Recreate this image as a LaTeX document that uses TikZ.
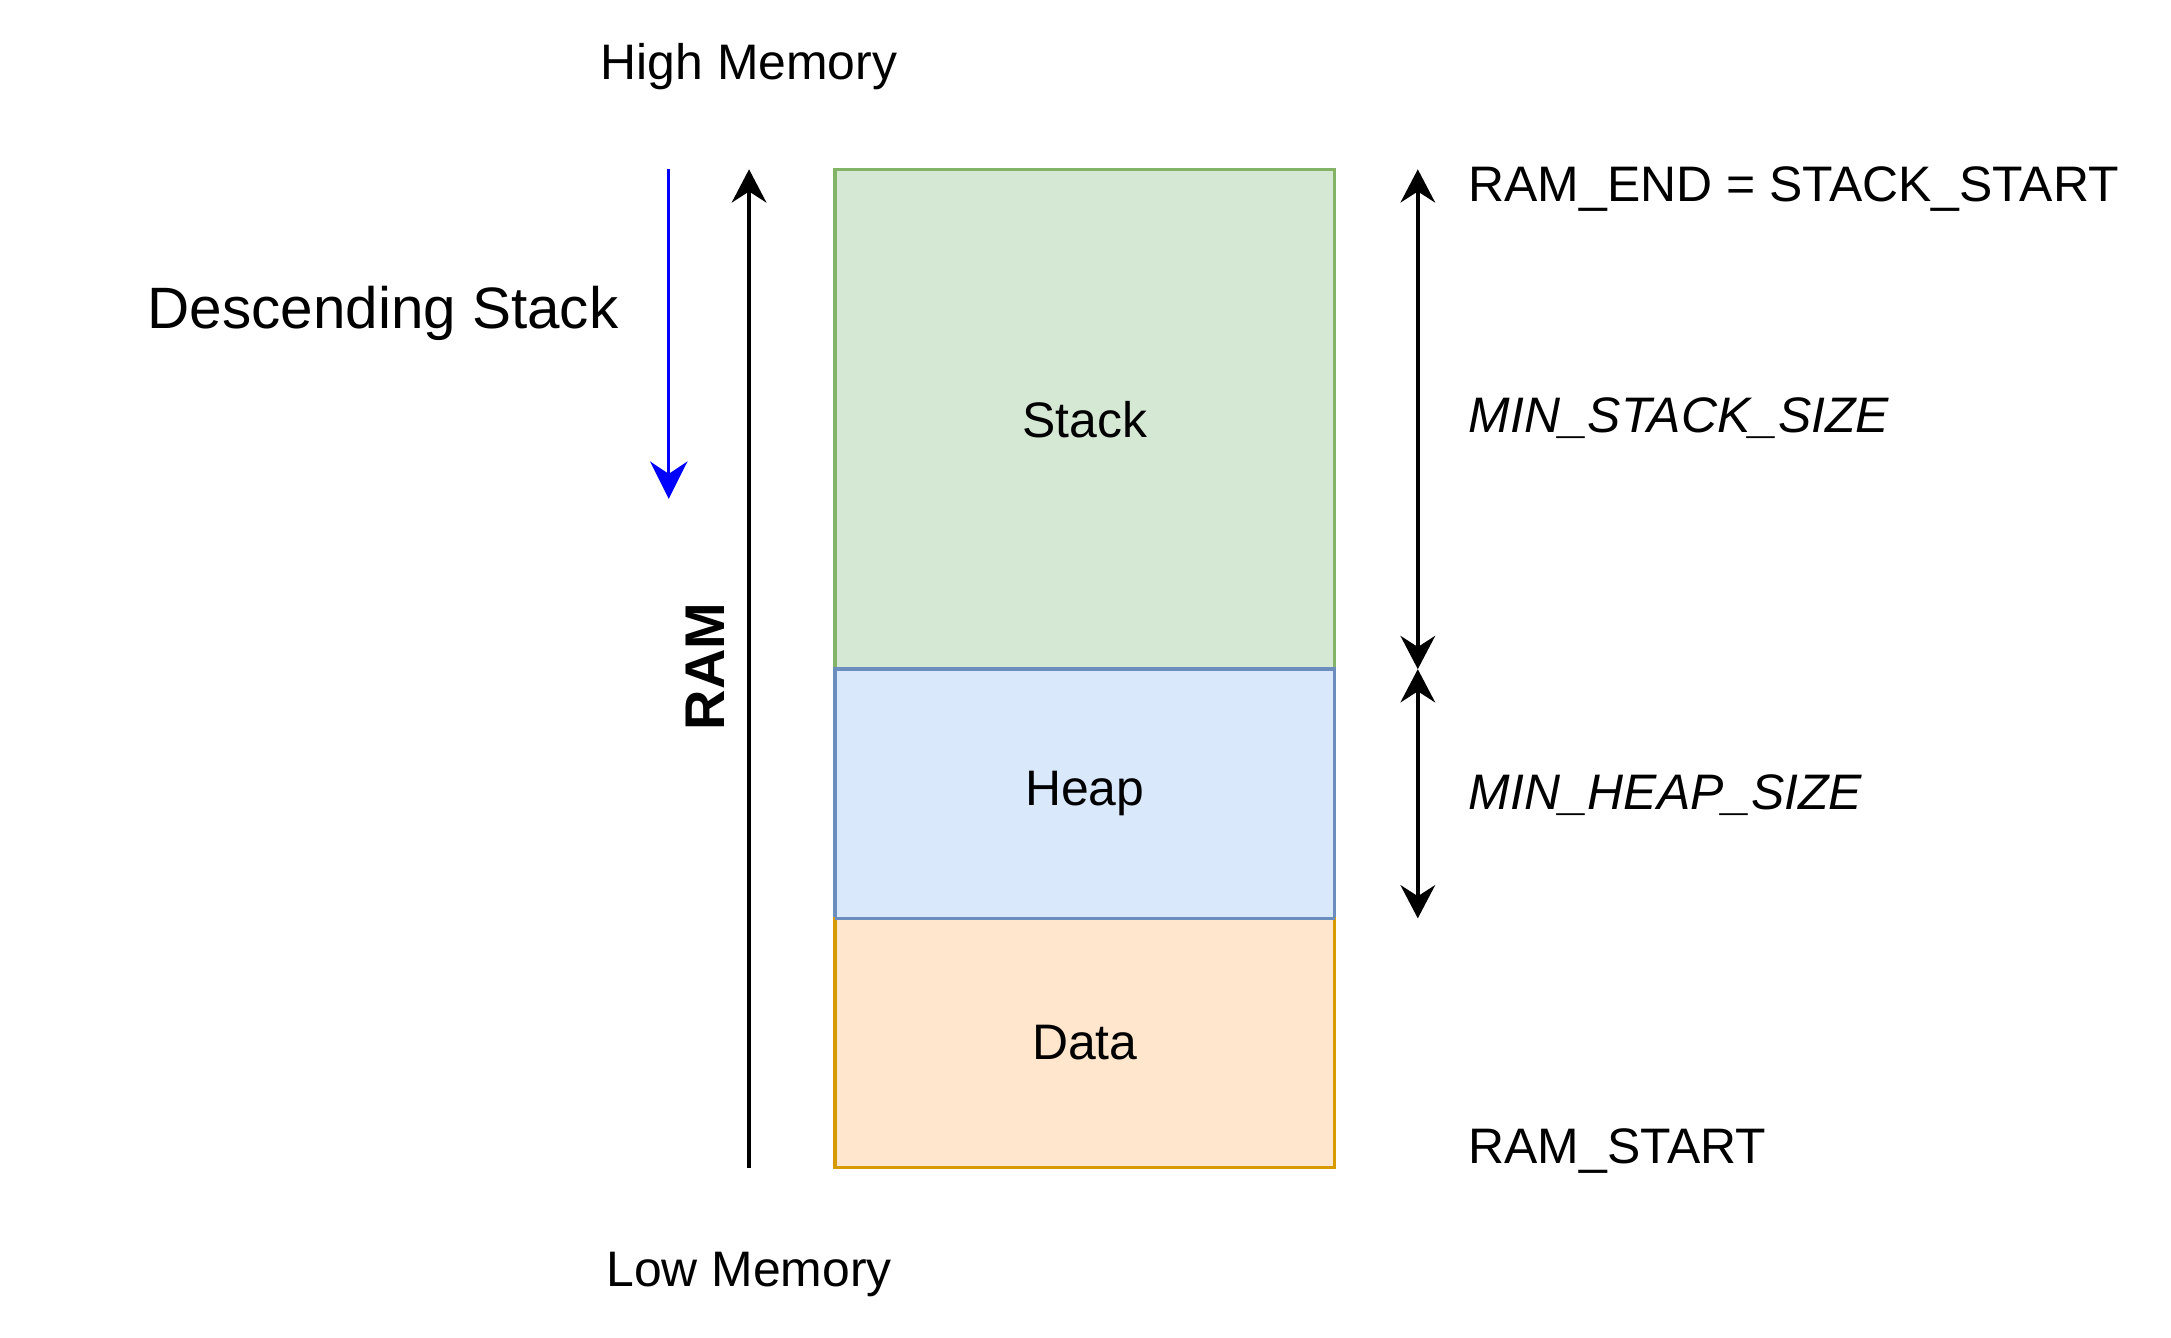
\documentclass[tikz,border=0pt]{standalone}
\usepackage{fontspec}
\setmainfont{Liberation Sans}
\usepackage{xcolor}
\usepackage{tikz}
\usetikzlibrary{arrows.meta, positioning}
\definecolor{stackfill}{HTML}{D5E8D4}
\definecolor{stackline}{HTML}{82B366}
\definecolor{heapfill}{HTML}{DAE8FC}
\definecolor{heapline}{HTML}{6C8EBF}
\definecolor{datafill}{HTML}{FFE6CC}
\definecolor{dataline}{HTML}{D79B00}
\tikzset{
  region/.style={rectangle, draw, line width=0.7pt, minimum width=3.61cm, outer sep=0pt, inner sep=0pt, font=\fontsize{10.25}{12}\selectfont},
  label/.style={inner sep=0pt, font=\fontsize{10.25}{12}\selectfont},
  arrow/.style={-{Stealth[length=2.4mm, width=2.5mm, inset=0.8mm]}, line width=0.75pt},
  bothways/.style={{Stealth[length=2.4mm, width=2.5mm, inset=0.8mm]}-{Stealth[length=2.4mm, width=2.5mm, inset=0.8mm]}, line width=0.75pt},
  bluearrow/.style={-{Stealth[length=2.7mm, width=2.7mm, inset=0.9mm]}, line width=0.7pt, draw=blue},
}

\begin{document}
\begin{tikzpicture}
    \useasboundingbox (0,0) rectangle (15.68,9.663);
    \node[region, fill=stackfill, draw=stackline, minimum height=3.61cm] (stack) at (7.835,6.635) {Stack};
    \node[region, fill=heapfill, draw=heapline, minimum height=1.8cm, below=0pt of stack] (heap) {Heap};
    \node[region, fill=datafill, draw=dataline, minimum height=1.8cm, below=0pt of heap] (data) {Data};
    \draw[heapline, line width=0.7pt] (heap.north west) -- (heap.north east);
    \draw[heapline, line width=0.7pt] (heap.south west) -- (heap.south east);

    \node[label] (highmem) at (5.41,9.18) {High Memory};
    \node[label] (lowmem) at (5.41,0.46) {Low Memory};
    \node[label, anchor=west, font=\fontsize{12}{14}\selectfont] (desc) at (1.06,7.40) {Descending Stack};
    \node[label, rotate=90, font=\fontsize{11.5}{14}\bfseries] (ramlabel) at (5.09,4.85) {RAM};
    \node[label, anchor=west] (ramend) at (10.60,8.30) {RAM\_END = STACK\_START};
    \node[label, anchor=west, font=\fontsize{10.25}{12}\itshape] (minstack) at (10.60,6.64) {MIN\_STACK\_SIZE};
    \node[label, anchor=west, font=\fontsize{10.25}{12}\itshape] (minheap) at (10.60,3.92) {MIN\_HEAP\_SIZE};
    \node[label, anchor=west] (ramstart) at (10.60,1.35) {RAM\_START};

    \coordinate (ramlow) at (5.41,1.23);
    \coordinate (ramhigh) at (5.41,8.44);
    \coordinate (growtop) at (4.83,8.44);
    \coordinate (growend) at (4.83,6.06);
    \coordinate (sizetop) at (10.24,8.44);
    \coordinate (sizemid) at (10.24,4.83);
    \coordinate (sizebot) at (10.24,3.03);

    \draw[arrow] (ramlow) -- (ramhigh);
    \draw[bluearrow] (growtop) -- (growend);
    \draw[bothways] (sizetop) -- (sizemid);
    \draw[bothways] (sizemid) -- (sizebot);
  \end{tikzpicture}
\end{document}
